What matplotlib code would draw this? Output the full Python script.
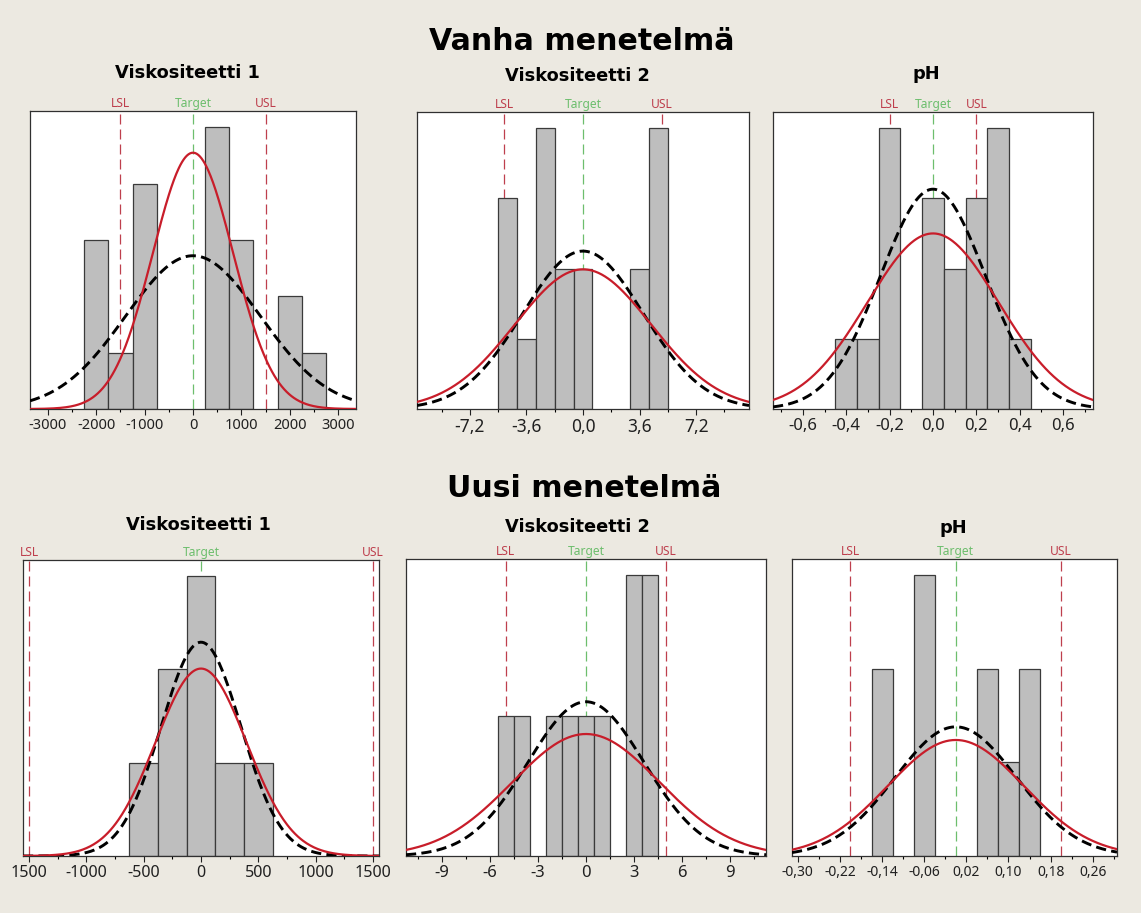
import numpy as np
import matplotlib
matplotlib.use("Agg")
import matplotlib.pyplot as plt

# ---- data ----
# Vanha menetelmä (old method)
old_v1_centers = [-2000, -1500, -1000, 500, 1000, 2000, 2500]
old_v1_counts = [3, 1, 4, 5, 3, 2, 1]
old_v1_binwidth = 500
old_v1_sigma = [833, 1393]          # within (red), overall (black dashed)
old_v1_spec = [-1500, 0, 1500]      # LSL, Target, USL

old_v2_centers = [-4.8, -3.6, -2.4, -1.2, 0.0, 3.6, 4.8]
old_v2_counts = [3, 1, 4, 2, 2, 2, 4]
old_v2_binwidth = 1.2
old_v2_sigma = [4.33, 3.83]
old_v2_spec = [-5, 0, 5]

old_ph_centers = [-0.4, -0.3, -0.2, 0.0, 0.1, 0.2, 0.3, 0.4]
old_ph_counts = [1, 1, 4, 3, 2, 3, 4, 1]
old_ph_binwidth = 0.1
old_ph_sigma = [0.303, 0.242]
old_ph_spec = [-0.2, 0, 0.2]

# Uusi menetelmä (new method)
new_v1_centers = [-500, -250, 0, 250, 500]
new_v1_counts = [1, 2, 3, 1, 1]
new_v1_binwidth = 250
new_v1_sigma = [397, 348]
new_v1_spec = [-1500, 0, 1500]

new_v2_centers = [-5, -4, -2, -1, 0, 1, 3, 4]
new_v2_counts = [1, 1, 1, 1, 1, 1, 2, 2]
new_v2_binwidth = 1
new_v2_sigma = [4.59, 3.63]
new_v2_spec = [-5, 0, 5]

new_ph_centers = [-0.14, -0.06, 0.06, 0.10, 0.14]
new_ph_counts = [2, 3, 2, 1, 2]
new_ph_binwidth = 0.04
new_ph_sigma = [0.1287, 0.1156]
new_ph_spec = [-0.2, 0, 0.2]

# tick labels
old_v1_ticks = [-3000, -2000, -1000, 0, 1000, 2000, 3000]
old_v1_labels = ["-3000", "-2000", "-1000", "0", "1000", "2000", "3000"]
old_v2_ticks = [-7.2, -3.6, 0.0, 3.6, 7.2]
old_v2_labels = ["-7,2", "-3,6", "0,0", "3,6", "7,2"]
old_ph_ticks = [-0.6, -0.4, -0.2, 0.0, 0.2, 0.4, 0.6]
old_ph_labels = ["-0,6", "-0,4", "-0,2", "0,0", "0,2", "0,4", "0,6"]
new_v1_ticks = [-1500, -1000, -500, 0, 500, 1000, 1500]
new_v1_labels = ["1500", "-1000", "-500", "0", "500", "1000", "1500"]
new_v2_ticks = [-9, -6, -3, 0, 3, 6, 9]
new_v2_labels = ["-9", "-6", "-3", "0", "3", "6", "9"]
new_ph_ticks = [-0.30, -0.22, -0.14, -0.06, 0.02, 0.10, 0.18, 0.26]
new_ph_labels = ["-0,30", "-0,22", "-0,14", "-0,06", "0,02", "0,10", "0,18", "0,26"]

BG = "#ECE9E1"
BAR = "#BEBEBE"
EDGE = "#3A3A3A"
RED = "#C81D2A"
SPEC = "#BE3F4D"
GREEN = "#6DBE6D"

W, H = 1141, 913
fig = plt.figure(figsize=(W / 100, H / 100), dpi=100, facecolor=BG)


def px_axes(l, t, r, b):
    return fig.add_axes([l / W, 1 - b / H, (r - l) / W, (b - t) / H])


def panel(ax, centers, counts, bw, sigma, spec, xlim, ticks, labels,
          minor_step, tick_size):
    ax.set_facecolor("white")
    n = sum(counts)
    lsl, target, usl = spec
    # spec lines go behind the bars
    for x, c in [(lsl, SPEC), (target, GREEN), (usl, SPEC)]:
        ax.axvline(x, color=c, lw=0.9, ls=(0, (8, 4)), zorder=1)
    ax.bar(centers, counts, width=bw, color=BAR, edgecolor=EDGE,
           linewidth=0.9, zorder=2)
    xs = np.linspace(xlim[0], xlim[1], 400)
    s_in, s_all = sigma
    ax.plot(xs, n * bw * np.exp(-0.5 * (xs / s_in) ** 2) / (s_in * np.sqrt(2 * np.pi)),
            color=RED, lw=1.6, zorder=4)
    ax.plot(xs, n * bw * np.exp(-0.5 * (xs / s_all) ** 2) / (s_all * np.sqrt(2 * np.pi)),
            color="black", lw=2.1, ls=(0, (3.5, 1.8)), zorder=3)
    ax.set_ylim(0, max(counts) * 1.058)
    ax.set_yticks([])
    ax.set_xticks(ticks)
    ax.set_xticklabels(labels, fontsize=tick_size, family="Noto Sans")
    ax.set_xticks(np.arange(ticks[0] - minor_step * 4, ticks[-1] + minor_step * 4,
                            minor_step), minor=True)
    ax.set_xlim(xlim)
    ax.tick_params(axis="x", which="major", length=4, width=0.8, pad=2.5,
                   colors="#202020")
    ax.tick_params(axis="x", which="minor", length=2.5, width=0.8)
    for s in ax.spines.values():
        s.set_color("#303030")
        s.set_linewidth(0.9)
    for x, txt, c in [(lsl, "LSL", SPEC), (target, "Target", GREEN), (usl, "USL", SPEC)]:
        ax.annotate(txt, xy=(x, 1), xycoords=("data", "axes fraction"),
                    xytext=(0, 2.8), textcoords="offset points",
                    ha="center", va="baseline", fontsize=8.7, color=c,
                    family="Noto Sans")


a1 = px_axes(30, 111, 356, 409)
panel(a1, old_v1_centers, old_v1_counts, old_v1_binwidth, old_v1_sigma, old_v1_spec,
      (-3372, 3372), old_v1_ticks, old_v1_labels, 500, 10.5)
a2 = px_axes(417, 112, 749, 409)
panel(a2, old_v2_centers, old_v2_counts, old_v2_binwidth, old_v2_sigma, old_v2_spec,
      (-10.57, 10.57), old_v2_ticks, old_v2_labels, 1.8, 12.5)
a3 = px_axes(773, 112, 1093, 409)
panel(a3, old_ph_centers, old_ph_counts, old_ph_binwidth, old_ph_sigma, old_ph_spec,
      (-0.738, 0.738), old_ph_ticks, old_ph_labels, 0.1, 12)
a4 = px_axes(23, 560, 379, 856)
panel(a4, new_v1_centers, new_v1_counts, new_v1_binwidth, new_v1_sigma, new_v1_spec,
      (-1552, 1552), new_v1_ticks, new_v1_labels, 250, 11.6)
a5 = px_axes(406, 559, 766, 856)
panel(a5, new_v2_centers, new_v2_counts, new_v2_binwidth, new_v2_sigma, new_v2_spec,
      (-11.24, 11.24), new_v2_ticks, new_v2_labels, 1.5, 12)
a6 = px_axes(792, 559, 1117, 856)
panel(a6, new_ph_centers, new_ph_counts, new_ph_binwidth, new_ph_sigma, new_ph_spec,
      (-0.311, 0.306), new_ph_ticks, new_ph_labels, 0.04, 10)


def ftext(x, y, s, size):
    fig.text(x / W, 1 - y / H, s, ha="center", va="baseline", fontsize=size,
             fontweight="bold", family="DejaVu Sans")


ftext(581.5, 50, "Vanha menetelmä", 21.6)
ftext(584, 497, "Uusi menetelmä", 21.6)
ftext(187, 78, "Viskositeetti 1", 12.8)
ftext(577, 81, "Viskositeetti 2", 12.8)
ftext(926, 79, "pH", 12.8)
ftext(198, 530, "Viskositeetti 1", 12.8)
ftext(577, 532, "Viskositeetti 2", 12.8)
ftext(953, 533, "pH", 12.8)

fig.savefig("out.png", dpi=100, facecolor=BG)
